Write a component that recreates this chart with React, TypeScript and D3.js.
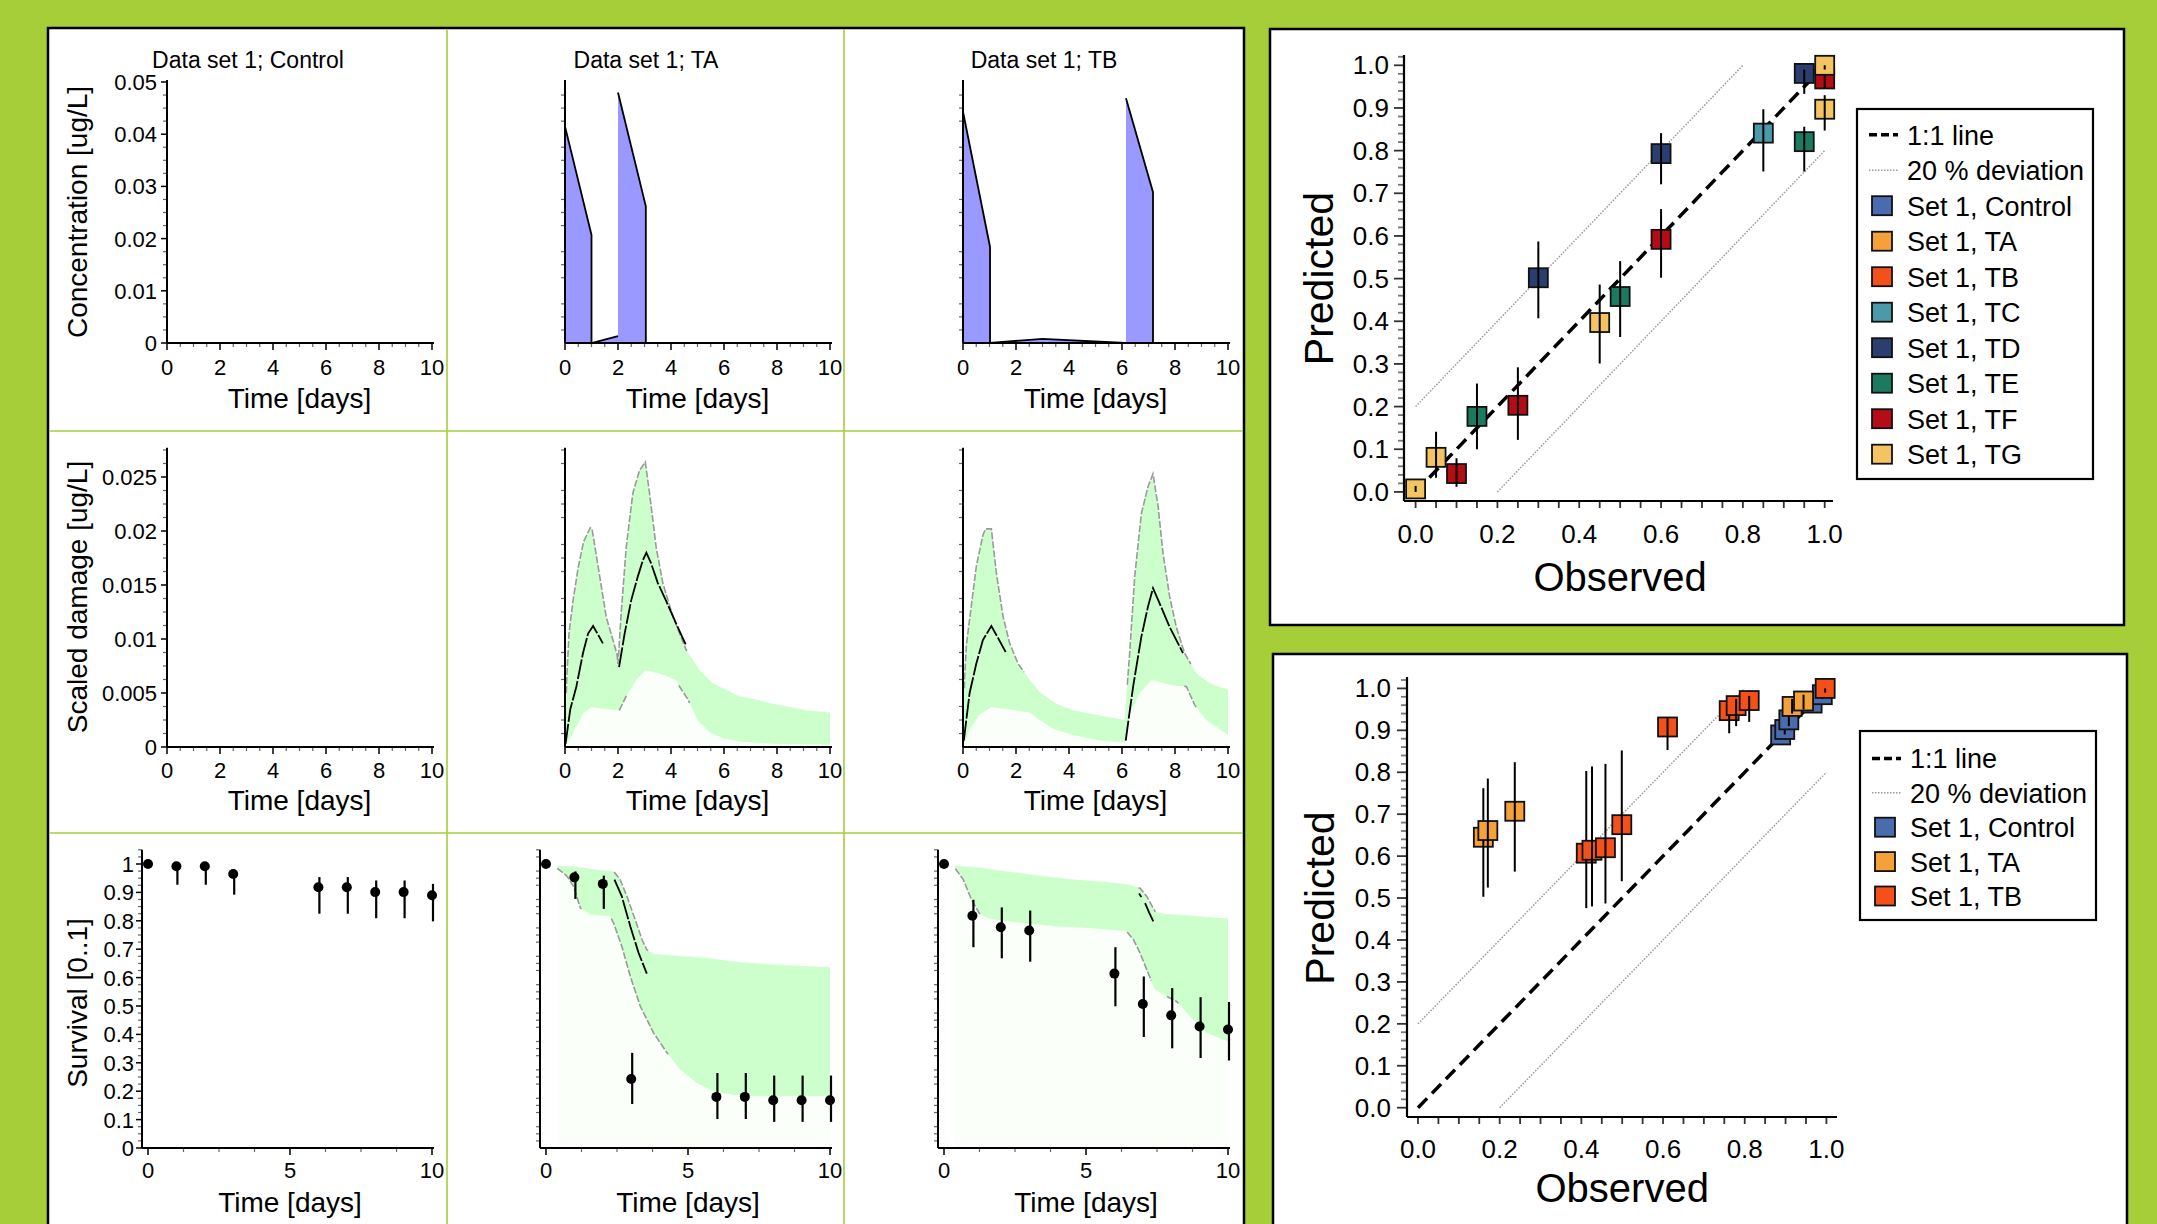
import React, { useEffect } from 'react';
import * as d3 from 'd3';

type Pt = [number, number];
type Obs = [number, number, number, number]; // x, y, lo, hi

// ---------------- data ----------------
const panelTitles = ['Data set 1; Control', 'Data set 1; TA', 'Data set 1; TB'];
const rowYLabels = ['Concentration [ug/L]', 'Scaled damage [ug/L]', 'Survival [0..1]'];
const timeAxisLabel = 'Time [days]';

// exposure concentration (time, conc)
const concTA: Pt[] = [[0, 0.0415], [1, 0.0207], [1, 0], [2, 0.0013], [2, 0.048], [3.05, 0.0262], [3.05, 0], [10, 0]];
const concTB: Pt[] = [[0, 0.0443], [1.02, 0.0184], [1.02, 0], [3, 0.0008], [6.15, 0], [6.15, 0.0469], [7.17, 0.0289], [7.17, 0], [10, 0]];

// scaled damage bands
const damageUpperTA: Pt[] = [[0, 0], [0.06, 0.006], [0.15, 0.0105], [0.3, 0.0135], [0.49, 0.0165], [0.7, 0.019], [0.95, 0.0203], [1.02, 0.0202], [1.31, 0.0158], [1.56, 0.012], [1.81, 0.0099], [1.96, 0.0086], [2.0, 0.0077], [2.12, 0.0124], [2.31, 0.0185], [2.56, 0.0235], [2.81, 0.0256], [3.03, 0.0264], [3.19, 0.0235], [3.44, 0.0185], [3.69, 0.0152], [4.07, 0.0121], [4.57, 0.009], [5.08, 0.0071], [5.58, 0.0059], [6.08, 0.0053], [6.58, 0.0047], [7.21, 0.0044], [7.84, 0.004], [8.47, 0.0037], [9.1, 0.0034], [10, 0.0032]];
const damageLowerTA: Pt[] = [[0, 0], [0.3, 0.0013], [0.68, 0.0031], [1.0, 0.0037], [1.56, 0.0035], [2.0, 0.0034], [2.05, 0.0034], [2.31, 0.0047], [2.69, 0.0062], [3.03, 0.0071], [3.57, 0.0068], [4.2, 0.0062], [4.32, 0.0056], [4.64, 0.0044], [5.0, 0.0025], [5.45, 0.0014], [5.96, 0.0008], [6.58, 0.0005], [7.84, 0.0003], [10, 0.0002]];
const damageMedianTA: Pt[][] = [
  [[0.02, 0.0003], [0.2, 0.0035], [0.43, 0.0056], [0.68, 0.0087], [0.87, 0.0105], [1.06, 0.0112], [1.2, 0.0106], [1.43, 0.0096]],
  [[2.04, 0.0074], [2.25, 0.0105], [2.5, 0.0136], [2.75, 0.0158], [2.94, 0.0173], [3.07, 0.018], [3.25, 0.017], [3.5, 0.0152], [3.82, 0.0135], [4.2, 0.0114], [4.57, 0.0094]],
];
const damageUpperTB: Pt[] = [[0, 0], [0.06, 0.0065], [0.13, 0.0095], [0.31, 0.013], [0.5, 0.0167], [0.75, 0.0196], [0.85, 0.0202], [1.07, 0.0202], [1.26, 0.0161], [1.51, 0.0121], [1.76, 0.0096], [2.08, 0.0077], [2.52, 0.0062], [2.89, 0.0051], [3.52, 0.004], [4.15, 0.0034], [4.78, 0.0031], [5.41, 0.0028], [6.1, 0.0025], [6.29, 0.0087], [6.48, 0.0158], [6.73, 0.0216], [6.98, 0.0241], [7.17, 0.0253], [7.36, 0.0223], [7.55, 0.0179], [7.8, 0.0139], [8.05, 0.0111], [8.36, 0.0087], [8.81, 0.0068], [9.31, 0.0059], [10, 0.0053]];
const damageLowerTB: Pt[] = [[0, 0], [0.25, 0.0016], [0.63, 0.003], [1.07, 0.0037], [1.64, 0.0035], [2.52, 0.0032], [2.89, 0.0025], [3.4, 0.0017], [4.15, 0.0011], [5.16, 0.0006], [6.1, 0.0004], [6.29, 0.0031], [6.67, 0.005], [7.11, 0.0062], [7.92, 0.0057], [8.43, 0.0056], [8.74, 0.0039], [9.18, 0.0025], [10, 0.0011]];
const damageMedianTB: Pt[][] = [
  [[0.03, 0.0006], [0.25, 0.005], [0.5, 0.0077], [0.75, 0.0099], [1.07, 0.0112], [1.32, 0.0101], [1.61, 0.0088]],
  [[6.14, 0.0006], [6.42, 0.0056], [6.73, 0.0102], [6.98, 0.013], [7.17, 0.0147], [7.42, 0.0133], [7.8, 0.0111], [8.3, 0.0087]],
];

// survival observations [time, mean, lo, hi]
const survObsControl: Obs[] = [[0, 1.0, 1.0, 1.0], [1, 0.992, 0.927, 0.995], [2, 0.992, 0.927, 0.995], [3, 0.965, 0.892, 0.97], [6, 0.918, 0.825, 0.954], [7, 0.918, 0.825, 0.954], [8, 0.901, 0.809, 0.942], [9, 0.901, 0.809, 0.942], [10, 0.89, 0.798, 0.93]];
const survObsTA: Obs[] = [[0, 1.0, 1.0, 1.0], [1, 0.953, 0.877, 0.974], [2, 0.93, 0.842, 0.959], [3, 0.243, 0.155, 0.335], [6, 0.18, 0.102, 0.264], [7, 0.18, 0.102, 0.264], [8, 0.168, 0.092, 0.255], [9, 0.168, 0.092, 0.255], [10, 0.168, 0.092, 0.255]];
const survObsTB: Obs[] = [[0, 1.0, 1.0, 1.0], [1, 0.818, 0.707, 0.874], [2, 0.777, 0.668, 0.847], [3, 0.766, 0.656, 0.836], [6, 0.614, 0.499, 0.707], [7, 0.507, 0.391, 0.604], [8, 0.467, 0.351, 0.563], [9, 0.428, 0.317, 0.531], [10, 0.417, 0.308, 0.514]];

// survival prediction bands
const survUpperTA: Pt[] = [[0.4, 0.994], [0.97, 0.992], [1.79, 0.98], [2.38, 0.974], [2.61, 0.945], [2.85, 0.886], [3.14, 0.804], [3.38, 0.734], [3.55, 0.698], [3.79, 0.683], [4.49, 0.678], [5.66, 0.669], [6.83, 0.654], [8.0, 0.646], [9.18, 0.64], [10, 0.637]];
const survLowerTA: Pt[] = [[0.4, 0.985], [0.74, 0.957], [0.97, 0.921], [1.21, 0.845], [1.56, 0.822], [2.26, 0.816], [2.38, 0.792], [2.67, 0.71], [2.97, 0.604], [3.32, 0.499], [3.79, 0.405], [4.26, 0.335], [4.72, 0.276], [5.31, 0.229], [5.9, 0.2], [6.83, 0.184], [8.0, 0.182], [10, 0.182]];
const survMedianTA: Pt[][] = [[[2.41, 0.945], [2.67, 0.886], [2.97, 0.78], [3.26, 0.687], [3.55, 0.614]]];
const survUpperTB: Pt[] = [[0.39, 0.994], [1.03, 0.989], [1.62, 0.982], [2.21, 0.974], [3.38, 0.959], [4.55, 0.945], [5.73, 0.937], [6.55, 0.927], [6.9, 0.915], [7.14, 0.886], [7.43, 0.833], [7.72, 0.825], [8.66, 0.819], [9.25, 0.813], [10, 0.808]];
const survLowerTB: Pt[] = [[0.39, 0.985], [0.68, 0.945], [0.97, 0.874], [1.27, 0.822], [1.62, 0.806], [2.79, 0.792], [3.97, 0.78], [5.14, 0.775], [6.43, 0.763], [6.67, 0.734], [6.9, 0.687], [7.14, 0.628], [7.43, 0.558], [7.84, 0.534], [8.19, 0.516], [8.66, 0.464], [9.25, 0.405], [10, 0.376]];
const survMedianTB: Pt[][] = [[[6.87, 0.896], [6.95, 0.884]], [[7.08, 0.862], [7.22, 0.83], [7.37, 0.798]]];

// ranges (in time) where the band borders are outlined in grey
const outlineDamageTA = { upper: [[0.05, 4.6]], lower: [[2.05, 2.35], [4.3, 4.7]] };
const outlineDamageTB = { upper: [[0.05, 2.3], [6.2, 8.6]], lower: [[8.35, 8.8]] };
const outlineSurvTA = { upper: [[2.4, 3.6]], lower: [[0.4, 1.25], [2.3, 4.3]] };
const outlineSurvTB = { upper: [[6.85, 7.45]], lower: [[0.4, 1.3], [6.45, 7.3], [7.85, 8.25]] };

// predicted vs observed
const scatterSeriesNames = ['Set 1, Control', 'Set 1, TA', 'Set 1, TB', 'Set 1, TC', 'Set 1, TD', 'Set 1, TE', 'Set 1, TF', 'Set 1, TG'];
const scatterSeriesColors = ['#4a6cae', '#f4a13a', '#f4511a', '#4a9aaa', '#2a3f70', '#1b7a5f', '#b50d15', '#f5c462'];
const referenceLineLabels = ['1:1 line', '20 % deviation'];
const axisObserved = 'Observed';
const axisPredicted = 'Predicted';

// [observed, predicted, lower, upper]
const topControl: Obs[] = [];
const topTA: Obs[] = [];
const topTB: Obs[] = [];
const topTC: Obs[] = [[0.85, 0.841, 0.751, 0.897]];
const topTD: Obs[] = [[0.3, 0.502, 0.407, 0.587], [0.6, 0.793, 0.721, 0.841], [0.95, 0.981, 0.933, 0.99]];
const topTE: Obs[] = [[0.15, 0.177, 0.1, 0.254], [0.5, 0.458, 0.363, 0.541], [0.95, 0.821, 0.751, 0.856]];
const topTF: Obs[] = [[0.1, 0.043, 0.012, 0.079], [0.25, 0.203, 0.122, 0.292], [0.6, 0.592, 0.502, 0.663], [1.0, 0.968, 0.947, 0.99]];
const topTG: Obs[] = [[0.0, 0.007, 0.0, 0.014], [0.05, 0.081, 0.033, 0.141], [0.45, 0.397, 0.301, 0.486], [1.0, 0.897, 0.847, 0.93], [1.0, 1.0, 0.99, 1.0]];

const bottomControl: Obs[] = [[0.888, 0.889, 0.88, 0.9], [0.898, 0.902, 0.89, 0.915], [0.908, 0.925, 0.91, 0.94], [0.965, 0.965, 0.955, 0.975], [0.99, 0.985, 0.975, 0.995]];
const bottomTA: Obs[] = [[0.16, 0.645, 0.503, 0.762], [0.171, 0.661, 0.525, 0.785], [0.237, 0.707, 0.563, 0.824], [0.916, 0.957, 0.94, 0.975], [0.944, 0.97, 0.95, 0.985]];
const bottomTB: Obs[] = [[0.412, 0.607, 0.476, 0.803], [0.426, 0.614, 0.48, 0.814], [0.459, 0.62, 0.487, 0.82], [0.499, 0.675, 0.54, 0.852], [0.611, 0.908, 0.853, 0.929], [0.762, 0.947, 0.893, 0.963], [0.779, 0.959, 0.91, 0.975], [0.811, 0.971, 0.92, 0.982], [0.997, 1.0, 0.99, 1.0]];

// ---------------- styling / layout ----------------
const W = 2157;
const H = 1224;
const FONT = "'Liberation Sans', Arial, Helvetica, sans-serif";
const BG_GREEN = '#a6ce39';
const BAND = '#ccffcc';
const FAINT = '#fafffa';
const CONC_FILL = '#9999ff';

const rowSpecs = [
  { yRef: 0.05, y0: 343, yRefPx: 82, yTop: 0.0504, major: 0.01, minor: 0.0025, xOff: 0, xLen: 265, xEnd: 267, xMajor: 2, xMinor: 0.5, tickBase: 375, labelBase: 408, yLabelCenter: 212, yLabelGap: 10 },
  { yRef: 0.025, y0: 747, yRefPx: 477, yTop: 0.0277, major: 0.005, minor: 0.00125, xOff: 0, xLen: 265, xEnd: 267, xMajor: 2, xMinor: 0.5, tickBase: 778, labelBase: 810, yLabelCenter: 597, yLabelGap: 10 },
  { yRef: 1, y0: 1148, yRefPx: 864, yTop: 1.05, major: 0.1, minor: 0.025, xOff: 6, xLen: 284, xEnd: 292, xMajor: 5, xMinor: 1.25, tickBase: 1178, labelBase: 1212, yLabelCenter: 1003, yLabelGap: 8 },
];
const colAxisX = [[167, 565, 963], [167, 565, 963], [142, 540, 938]];

const isMultiple = (v: number, step: number) => Math.abs(v / step - Math.round(v / step)) < 1e-6;
const fmt = (v: number) => String(+v.toFixed(5));

function clipRange(pts: Pt[], a: number, b: number): Pt[] {
  const out: Pt[] = [];
  const interp = (p: Pt, q: Pt, t: number): Pt => [t, p[1] + ((q[1] - p[1]) * (t - p[0])) / (q[0] - p[0] || 1)];
  for (let i = 0; i < pts.length; i++) {
    const p = pts[i];
    if (p[0] >= a && p[0] <= b) {
      if (out.length === 0 && i > 0 && pts[i - 1][0] < a) out.push(interp(pts[i - 1], p, a));
      out.push(p);
    } else if (p[0] > b) {
      if (out.length > 0) out.push(interp(pts[i - 1], p, b));
      else if (i > 0 && pts[i - 1][0] < a) { out.push(interp(pts[i - 1], p, a)); out.push(interp(pts[i - 1], p, b)); }
      break;
    }
  }
  return out;
}

function concSegments(pts: Pt[]): Pt[][] {
  const segs: Pt[][] = [];
  let cur: Pt[] = [pts[0]];
  for (let i = 1; i < pts.length; i++) {
    const p = pts[i - 1], q = pts[i];
    if (q[0] === p[0] && q[1] > p[1]) { segs.push(cur); cur = [q]; } else cur.push(q);
  }
  segs.push(cur);
  return segs;
}

function getScales(r: number, c: number) {
  const s = rowSpecs[r];
  const ax = colAxisX[r][c];
  const ys = d3.scaleLinear().domain([0, s.yRef]).range([s.y0, s.yRefPx]);
  const xs = d3.scaleLinear().domain([0, 10]).range([ax + s.xOff, ax + s.xOff + s.xLen]);
  return { s, ax, xs, ys };
}

function PanelAxes({ r, c }: { r: number; c: number }) {
  const { s, ax, xs, ys } = getScales(r, c);
  const showY = c === 0;
  const yTicks = d3.range(0, s.yTop + 1e-9, s.minor);
  const xTicks = d3.range(0, 10 + 1e-9, s.xMinor);
  const yb = ys(0);
  return (
    <g>
      {yTicks.map((v, i) => {
        const major = isMultiple(v, s.major);
        if (major && !showY) return null;
        const len = major ? 6 : 4;
        return <line key={'yt' + i} x1={ax - len} x2={ax} y1={ys(v)} y2={ys(v)} stroke={major ? '#000' : '#666'} strokeWidth={major ? 1.5 : 1.2} />;
      })}
      {showY && yTicks.filter((v) => isMultiple(v, s.major)).map((v, i) => (
        <text key={'yl' + i} x={ax - s.yLabelGap} y={ys(v) + 8} textAnchor="end" fontSize={22}>{fmt(v)}</text>
      ))}
      {xTicks.map((v, i) => {
        const major = isMultiple(v, s.xMajor);
        const len = major ? 7 : 4;
        return <line key={'xt' + i} x1={xs(v)} x2={xs(v)} y1={yb} y2={yb + len} stroke={major ? '#000' : '#666'} strokeWidth={major ? 1.5 : 1.2} />;
      })}
      {xTicks.filter((v) => isMultiple(v, s.xMajor)).map((v, i) => (
        <text key={'xl' + i} x={xs(v)} y={s.tickBase} textAnchor="middle" fontSize={22}>{fmt(v)}</text>
      ))}
      <line x1={ax} x2={ax} y1={yb} y2={ys(s.yTop)} stroke="#000" strokeWidth={2} />
      <line x1={ax} x2={ax + s.xEnd} y1={yb} y2={yb} stroke="#000" strokeWidth={2} />
      <text x={xs(5)} y={s.labelBase} textAnchor="middle" fontSize={28}>{timeAxisLabel}</text>
      {showY && (
        <text transform={`translate(87,${s.yLabelCenter}) rotate(-90)`} textAnchor="middle" fontSize={28}>{rowYLabels[r]}</text>
      )}
      {r === 0 && (
        <text x={ax + 81} y={68} textAnchor="middle" fontSize={23}>{panelTitles[c]}</text>
      )}
    </g>
  );
}

function ConcPanel({ c, data }: { c: number; data: Pt[] }) {
  const { xs, ys } = getScales(0, c);
  const area = d3.area<Pt>().x((d) => xs(d[0])).y0(ys(0)).y1((d) => ys(d[1]));
  const line = d3.line<Pt>().x((d) => xs(d[0])).y((d) => ys(d[1]));
  return (
    <g>
      <path d={area(data) || ''} fill={CONC_FILL} stroke="none" />
      {concSegments(data).map((seg, i) => (
        <path key={i} d={line(seg) || ''} fill="none" stroke="#000" strokeWidth={1.8} />
      ))}
    </g>
  );
}

function BandPanel({ r, c, upper, lower, medians, outline }: { r: number; c: number; upper: Pt[]; lower: Pt[]; medians: Pt[][]; outline: { upper: number[][]; lower: number[][] } }) {
  const { xs, ys } = getScales(r, c);
  const line = d3.line<Pt>().x((d) => xs(d[0])).y((d) => ys(d[1]));
  const first = upper[0][0], last = upper[upper.length - 1][0];
  const faint = line([...upper, [last, 0] as Pt, [first, 0] as Pt]) + 'Z';
  const band = line([...upper, ...lower.slice().reverse()]) + 'Z';
  const outlines: Pt[][] = [
    ...outline.upper.map(([a, b]) => clipRange(upper, a, b)),
    ...outline.lower.map(([a, b]) => clipRange(lower, a, b)),
  ].filter((s) => s.length > 1);
  return (
    <g>
      <path d={faint} fill={FAINT} stroke="none" />
      <path d={band} fill={BAND} stroke="none" />
      {outlines.map((seg, i) => (
        <path key={'o' + i} d={line(seg) || ''} fill="none" stroke="#9a9a9a" strokeWidth={1.6} strokeDasharray="7 2" />
      ))}
      {medians.map((seg, i) => (
        <path key={'m' + i} d={line(seg) || ''} fill="none" stroke="#000" strokeWidth={1.8} strokeDasharray="20 2" />
      ))}
    </g>
  );
}

function ObsPoints({ c, data }: { c: number; data: Obs[] }) {
  const { xs, ys } = getScales(2, c);
  return (
    <g>
      {data.map((d, i) => (
        <g key={i}>
          {d[3] - d[2] > 0.001 && <line x1={xs(d[0]) + 1} x2={xs(d[0]) + 1} y1={ys(d[2])} y2={ys(d[3])} stroke="#000" strokeWidth={2.2} />}
          <circle cx={xs(d[0])} cy={ys(d[1])} r={5} fill="#000" />
        </g>
      ))}
    </g>
  );
}

type ScatterGeom = { box: number[]; x0: number; x1: number; y0: number; y1: number; axisX: number; axisY: number; yAxisTop: number; xAxisEnd: number; tickBase: number; yLabelRight: number; obsBase: number; predX: number; legend: number[]; legendFirst: number; legendStep: number };

function ScatterPanel({ g, series, nLegendSeries }: { g: ScatterGeom; series: Obs[][]; nLegendSeries: number }) {
  const xs = d3.scaleLinear().domain([0, 1]).range([g.x0, g.x1]);
  const ys = d3.scaleLinear().domain([0, 1]).range([g.y0, g.y1]);
  const yTicks = d3.range(0, 1.0201, 0.02);
  const xTicks = d3.range(0, 1.0001, 0.05);
  const [bx0, by0, bx1, by1] = g.box;
  const [lx0, ly0, lx1, ly1] = g.legend;
  const legendItems = [...referenceLineLabels, ...scatterSeriesNames.slice(0, nLegendSeries)];
  const MS = 19;
  return (
    <g>
      <rect x={bx0} y={by0} width={bx1 - bx0} height={by1 - by0} fill="#fff" stroke="#000" strokeWidth={2.5} />
      {/* reference lines */}
      <line x1={xs(0)} y1={ys(0.2)} x2={xs(0.8)} y2={ys(1)} stroke="#999" strokeWidth={1.5} strokeDasharray="1.5 1.5" />
      <line x1={xs(0.2)} y1={ys(0)} x2={xs(1)} y2={ys(0.8)} stroke="#999" strokeWidth={1.5} strokeDasharray="1.5 1.5" />
      <line x1={xs(0)} y1={ys(0)} x2={xs(1)} y2={ys(1)} stroke="#000" strokeWidth={3.5} strokeDasharray="13 7" />
      {/* points */}
      {series.map((pts, si) => (
        <g key={si}>
          {pts.map((d, i) => (
            <g key={i}>
              <rect x={xs(d[0]) - MS / 2} y={ys(d[1]) - MS / 2} width={MS} height={MS} fill={scatterSeriesColors[si]} stroke="#111" strokeWidth={1.8} />
              <line x1={xs(d[0])} x2={xs(d[0])} y1={ys(d[2])} y2={ys(d[3])} stroke="#000" strokeWidth={2} />
            </g>
          ))}
        </g>
      ))}
      {/* axes */}
      {yTicks.map((v, i) => {
        const major = i % 5 === 0;
        const len = major ? 10 : 6;
        return <line key={'yt' + i} x1={g.axisX - len} x2={g.axisX} y1={ys(v)} y2={ys(v)} stroke={major ? '#333' : '#777'} strokeWidth={1.8} />;
      })}
      {yTicks.filter((_, i) => i % 5 === 0).map((v, i) => (
        <text key={'yl' + i} x={g.yLabelRight} y={ys(v) + 9} fontSize={26} textAnchor="end">{v.toFixed(1)}</text>
      ))}
      {xTicks.map((v, i) => (
        <line key={'xt' + i} x1={xs(v)} x2={xs(v)} y1={g.axisY} y2={g.axisY + 7} stroke="#333" strokeWidth={1.8} />
      ))}
      {xTicks.filter((_, i) => i % 4 === 0).map((v, i) => (
        <text key={'xl' + i} x={xs(v)} y={g.tickBase} fontSize={26} textAnchor="middle">{v.toFixed(1)}</text>
      ))}
      <line x1={g.axisX} x2={g.axisX} y1={g.axisY} y2={g.yAxisTop} stroke="#000" strokeWidth={2.2} />
      <line x1={g.axisX} x2={g.xAxisEnd} y1={g.axisY} y2={g.axisY} stroke="#000" strokeWidth={2.2} />
      <text x={(g.x0 + g.x1) / 2} y={g.obsBase} fontSize={40} textAnchor="middle">{axisObserved}</text>
      <text transform={`translate(${g.predX},${(g.y0 + g.y1) / 2}) rotate(-90)`} fontSize={41} textAnchor="middle">{axisPredicted}</text>
      {/* legend */}
      <rect x={lx0} y={ly0} width={lx1 - lx0} height={ly1 - ly0} fill="#fff" stroke="#000" strokeWidth={2.2} />
      {legendItems.map((label, i) => {
        const cy = g.legendFirst + i * g.legendStep;
        let sym;
        if (i === 0) sym = <line x1={lx0 + 12} x2={lx0 + 41} y1={cy} y2={cy} stroke="#000" strokeWidth={3.5} strokeDasharray="8 4" />;
        else if (i === 1) sym = <line x1={lx0 + 12} x2={lx0 + 41} y1={cy} y2={cy} stroke="#999" strokeWidth={1.5} strokeDasharray="1.5 1.5" />;
        else sym = <rect x={lx0 + 15} y={cy - 9.5} width={20} height={19} fill={scatterSeriesColors[i - 2]} stroke="#111" strokeWidth={1.8} />;
        return (
          <g key={'lg' + i}>
            {sym}
            <text x={lx0 + 50} y={cy + 10} fontSize={27}>{label}</text>
          </g>
        );
      })}
    </g>
  );
}

const topGeom: ScatterGeom = { box: [1270, 29, 2124, 625], x0: 1415.6, x1: 1824.7, y0: 491.9, y1: 65.3, axisX: 1404, axisY: 501, yAxisTop: 55, xAxisEnd: 1833, tickBase: 543, yLabelRight: 1389, obsBase: 591, predX: 1333, legend: [1857, 109, 2093, 479], legendFirst: 134.7, legendStep: 35.5 };
const bottomGeom: ScatterGeom = { box: [1273, 654, 2127, 1260], x0: 1418, x1: 1826.4, y0: 1107.7, y1: 688.4, axisX: 1407, axisY: 1117, yAxisTop: 677, xAxisEnd: 1837, tickBase: 1158, yLabelRight: 1391, obsBase: 1202, predX: 1334, legend: [1860, 731, 2096, 920], legendFirst: 758.4, legendStep: 34.4 };

export default function App() {
  useEffect(() => {
    document.body.style.margin = '0';
    document.body.style.overflow = 'hidden';
  }, []);
  return (
    <svg width={W} height={H} style={{ position: 'absolute', left: 0, top: 0, display: 'block' }} fontFamily={FONT}>
      <rect width={W} height={H} fill={BG_GREEN} />
      {/* left block */}
      <rect x={48} y={28} width={1196} height={1230} fill="#fff" stroke="#000" strokeWidth={2.5} />
      {[447, 844].map((x) => <line key={'gx' + x} x1={x} x2={x} y1={29} y2={1258} stroke={BG_GREEN} strokeWidth={1.6} />)}
      {[431, 833].map((y) => <line key={'gy' + y} x1={49} x2={1243} y1={y} y2={y} stroke={BG_GREEN} strokeWidth={1.6} />)}

      <ConcPanel c={1} data={concTA} />
      <ConcPanel c={2} data={concTB} />
      <BandPanel r={1} c={1} upper={damageUpperTA} lower={damageLowerTA} medians={damageMedianTA} outline={outlineDamageTA} />
      <BandPanel r={1} c={2} upper={damageUpperTB} lower={damageLowerTB} medians={damageMedianTB} outline={outlineDamageTB} />
      <BandPanel r={2} c={1} upper={survUpperTA} lower={survLowerTA} medians={survMedianTA} outline={outlineSurvTA} />
      <BandPanel r={2} c={2} upper={survUpperTB} lower={survLowerTB} medians={survMedianTB} outline={outlineSurvTB} />
      <ObsPoints c={0} data={survObsControl} />
      <ObsPoints c={1} data={survObsTA} />
      <ObsPoints c={2} data={survObsTB} />
      {[0, 1, 2].map((r) => [0, 1, 2].map((c) => <PanelAxes key={`ax${r}${c}`} r={r} c={c} />))}

      <ScatterPanel g={topGeom} series={[topControl, topTA, topTB, topTC, topTD, topTE, topTF, topTG]} nLegendSeries={8} />
      <ScatterPanel g={bottomGeom} series={[bottomControl, bottomTA, bottomTB]} nLegendSeries={3} />
    </svg>
  );
}
